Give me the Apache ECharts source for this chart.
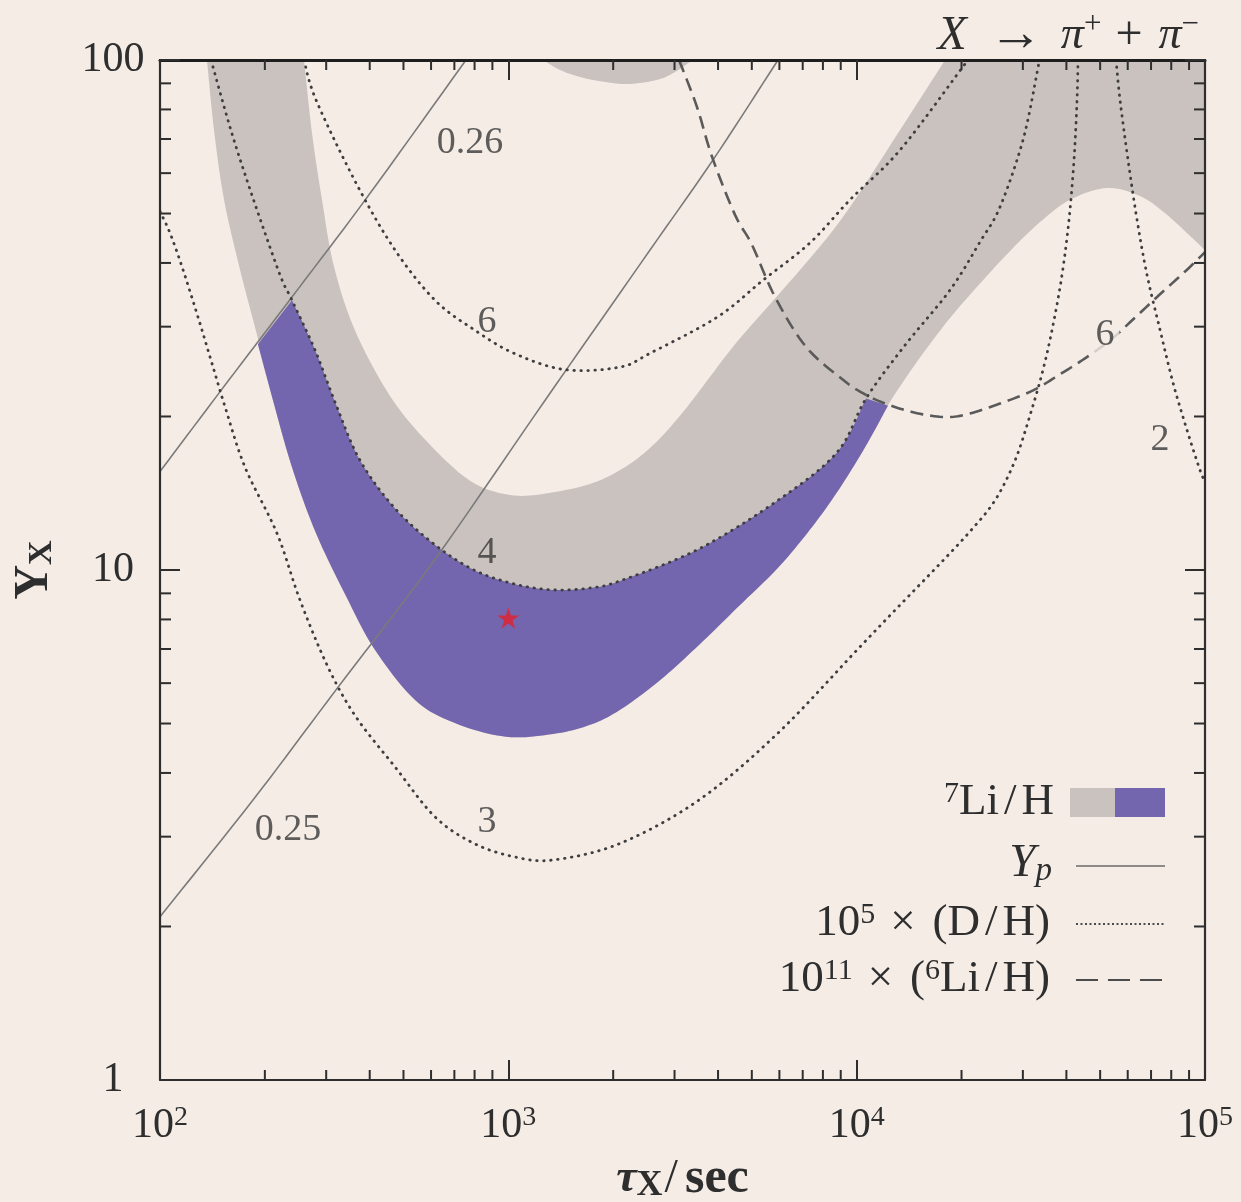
<!DOCTYPE html>
<html>
<head>
<meta charset="utf-8">
<script src="https://cdn.jsdelivr.net/npm/echarts@6/dist/echarts.min.js"></script>
<style>
html,body{margin:0;padding:0;background:#f5ece6;}
#chart{width:1241px;height:1202px;}
</style>
</head>
<body>
<div id="chart"></div>
<script>
// ---------- axis ticks ----------
const xTickExponents = [2, 3, 4, 5];          // labels 10^2 ... 10^5
const yTickLabels = ['1', '10', '100'];
const minorMantissas = [2, 3, 4, 5, 6, 7, 8, 9];
const xDecades = [100, 1000, 10000];
const yDecades = [1, 10];

// ---------- 7Li/H allowed band (tau [s], Y_X) ----------
const li7OuterEdge = [
  [136.4,100],[142.9,72.9],[152.7,53.2],[169.7,38.8],[192.4,27.9],[211.1,21.5],[239.3,15.9],
  [280.5,11.8],[346.5,8.73],[414.3,6.97],[539.8,5.56],[702.9,5.01],[984.7,4.71],[1344,4.77],
  [1716,4.97],[2093,5.32],[2725,6.08],[3527,7.13],[4626,8.54],[5946,10.1],[7345,12.0],
  [8780,14.2],[10570,17.4],[12220,20.9],[14900,25.6],[18540,31.2],[23050,37.0],[28110,42.8],
  [33600,48.1],[40980,53.2],[52330,56.1],[65090,54.1],[77800,49.7],[100000,42.4]
];
const li7InnerEdge = [
  [259.1,100],[273.1,71.9],[291.8,53.2],[316.0,39.3],[365.3,29.2],[466.6,21.5],[615.9,17.2],
  [797.0,14.8],[1038,14.0],[1344,14.2],[1716,14.75],[2093,15.7],[2551,17.35],[3172,20.4],
  [4416,27.4],[5640,33.2],[7692,42.4],[9569,51.5],[13320,72.9],[17930,100]
];
const li7TopPatch = [
  [1258,100],[1407,95.6],[1606,92.6],[1833,90.9],[2191,89.7],[2672,91.4],[3009,94.7],[3322,99.1],[3434,100]
];
// ---------- region allowed by all constraints (purple) ----------
const purpleLowerEdge = [
  [191.0,27.7],[211.1,21.5],[239.3,15.9],[280.5,11.8],[346.5,8.73],[414.3,6.97],[539.8,5.56],
  [702.9,5.01],[984.7,4.71],[1344,4.77],[1716,4.97],[2093,5.32],[2725,6.08],[3527,7.13],
  [4626,8.54],[5946,10.1],[7345,12.0],[8780,14.2],[10570,17.4],[12300,21.0]
];
const purpleUpperEdge = [
  [10640,21.7],[8780,17.0],[5946,13.7],[3527,11.0],[2093,9.52],[1716,9.22],[1344,9.14],[1038,9.39],
  [797.0,10.0],[615.9,11.2],[472.9,13.2],[375.2,16.4],[320.1,21.1],[278.6,27.0],[239.3,33.8]
];

// ---------- 10^5 x D/H contours ----------
const dh2 = [
  [55540,100],[57020,83.5],[60120,63.7],[63810,48.6],[68160,37.9],[74260,29.6],[80930,23.3],
  [88800,18.8],[96760,15.7],[100000,14.9]
];
const dh3 = [
  [100,50.5],[106.8,45.8],[115.7,39.3],[128.6,31.3],[142.0,25.0],[153.7,20.9],[175.4,15.9],
  [216.7,11.8],[252.3,8.73],[303.6,6.45],[365.3,5.15],[472.9,4.11],[615.9,3.28],[797.0,2.91],
  [1038,2.74],[1344,2.70],[2093,2.91],[3527,3.54],[5946,4.79],[10023,6.97],[13320,8.54],[16900,10.1],
  [21150,11.9],[24960,13.7],[28490,16.4],[31450,20.1],[34280,24.7],[36620,30.2],[38860,37.9],
  [40700,48.6],[42070,63.7],[42920,83.5],[43200,100]
];
const dh4 = [
  [140.1,100],[166.4,66.6],[216.7,39.3],[239.3,33.8],[278.6,27.0],[320.1,21.1],[375.2,16.4],
  [472.9,13.2],[615.9,11.2],[797.0,10.0],[1038,9.39],[1344,9.14],[1716,9.22],[2093,9.52],
  [3527,11.0],[5946,13.7],[8780,17.0],[10640,21.7],[13770,27.6],[18540,35.4],[22600,44.0],
  [25790,51.5],[30030,69.7],[32940,94.3],[33380,100]
];
const dh6 = [
  [259.1,100],[280.5,83.5],[365.3,57.4],[472.9,42.4],[615.9,33.8],[797.0,29.6],[1038,26.6],
  [1455,24.7],[2093,25.0],[2551,26.6],[3973,31.3],[5383,37.0],[7345,43.8],[9569,53.2],
  [13320,66.6],[20070,96.5],[20870,100]
];
// ---------- 10^11 x 6Li/H = 6 contour ----------
const li6Contour = [
  [3090,100],[3480,80.9],[3844,64.6],[4475,49.7],[5007,43.4],[5830,34.3],[7153,27.4],[9135,23.6],
  [10570,22.1],[12300,21.1],[14900,20.3],[17930,19.95],[20740,20.2],[25790,21.2],[32090,22.5],
  [38360,24.2],[45250,26.0],[53380,28.2],[60920,30.6],[72830,34.3],[88800,38.8],[100000,42.0]
];
// ---------- Y_p contours ----------
const yp025 = [[100,2.09],[184.9,3.54],[320.1,5.82],[615.9,10.5],[1274,21.5],[2551,42.4],[3869,63.7],[5946,100]];
const yp026 = [[100,15.6],[149.7,22.5],[239.3,34.3],[395.6,54.1],[755.9,100]];
// ---------- best point ----------
const bestPoint = [[1000, 8.05]];
// ---------- contour labels ----------
const contourLabelNames = ['0.26', '6', '4', '3', '0.25', '6', '2'];
const contourLabelPos = [[776,68.8],[869,30.6],[869,10.8],[869,3.21],[233,3.09],[51600,28.9],[74260,18.0]];

// ---------- styling ----------
const BG = '#f5ece6';
const GREY = '#c9c2bf';
const PURPLE = '#7466ae';
const INK = '#2e2e2e';
const SERIF = "'Liberation Serif','DejaVu Serif',serif";

const xMinor = [];
xDecades.forEach(d => minorMantissas.forEach(m => xMinor.push(m * d)));
const yMinor = [];
yDecades.forEach(d => minorMantissas.forEach(m => yMinor.push(m * d)));

// Catmull-Rom smoothing of screen-space points (rendering only)
function spline(pts, segs) {
  if (pts.length < 3) return pts.slice();
  const out = [];
  for (let i = 0; i < pts.length - 1; i++) {
    const p0 = pts[i - 1] || pts[i], p1 = pts[i], p2 = pts[i + 1], p3 = pts[i + 2] || pts[i + 1];
    for (let k = 0; k < segs; k++) {
      const s = k / segs, s2 = s * s, s3 = s2 * s;
      out.push([0, 1].map(j => 0.5 * (2 * p1[j] + (-p0[j] + p2[j]) * s +
        (2 * p0[j] - 5 * p1[j] + 4 * p2[j] - p3[j]) * s2 + (-p0[j] + 3 * p1[j] - 3 * p2[j] + p3[j]) * s3)));
    }
  }
  out.push(pts[pts.length - 1]);
  return out;
}

function polygonSeries(name, edges, color, z) {
  const flat = [].concat.apply([], edges);
  return {
    type: 'custom', name: name, coordinateSystem: 'cartesian2d', z: z, silent: true,
    animation: false, data: flat, encode: {x: 0, y: 1},
    renderItem: function (params, api) {
      if (params.dataIndex !== 0) return null;
      let pts = [];
      edges.forEach(e => { pts = pts.concat(spline(e.map(p => api.coord(p)), 10)); });
      return {type: 'polygon', shape: {points: pts}, style: {fill: color}};
    }
  };
}
function curveSeries(name, data, st, z) {
  return {
    type: 'custom', name: name, coordinateSystem: 'cartesian2d', z: z, silent: true,
    animation: false, data: data, encode: {x: 0, y: 1}, clip: true,
    renderItem: function (params, api) {
      if (params.dataIndex !== 0) return null;
      return {type: 'polyline', shape: {points: spline(data.map(p => api.coord(p)), 10)},
        style: Object.assign({fill: null}, st)};
    }
  };
}
const dotted = {stroke: '#3e3e3e', lineWidth: 2.8, lineDash: [0.5, 6.5], lineCap: 'round'};
const dashed = {stroke: '#5a5a5a', lineWidth: 2.6, lineDash: [13, 7]};
const solid = {stroke: '#7a7a7a', lineWidth: 1.6};

const greyBand = [li7OuterEdge, [[100000, 100]], li7InnerEdge.slice().reverse()];
const purpleRegion = [purpleLowerEdge, purpleUpperEdge];

const axisCommon = {
  type: 'log', logBase: 10, interval: 1,
  splitLine: {show: false}, minorTick: {show: false}, minorSplitLine: {show: false},
  axisTick: {show: true, inside: true, length: 20, lineStyle: {color: INK, width: 2}},
  z: 8
};
const supRich = {fontFamily: SERIF, fontSize: 30, fill: INK, verticalAlign: 'top'};
const legFont = {fontFamily: SERIF, fontSize: 45, fill: INK};
const timesRich = {fontFamily: SERIF, fontSize: 45, fill: INK, padding: [0, 17, 0, 15]};
const slashRich = {fontFamily: SERIF, fontSize: 45, fill: INK, padding: [0, 5]};

const chart = echarts.init(document.getElementById('chart'), null, {renderer: 'canvas'});
chart.setOption({
  backgroundColor: BG,
  animation: false,
  textStyle: {fontFamily: SERIF},
  title: {
    text: '{i|X}{a|→}{p|π}{u|+}{b|+}{p|π}{u|−}',
    right: 37, top: 4,
    textStyle: {
      fontWeight: 'normal',
      rich: {
        i: {fontFamily: SERIF, fontStyle: 'italic', fontWeight: 'normal', fontSize: 48, color: INK},
        a: {fontFamily: SERIF, fontWeight: 'normal', fontSize: 54, color: INK, padding: [0, 18, 0, 22]},
        b: {fontFamily: SERIF, fontWeight: 'normal', fontSize: 48, color: INK, padding: [0, 16, 0, 14]},
        p: {fontFamily: SERIF, fontStyle: 'italic', fontWeight: 'normal', fontSize: 46, color: INK},
        u: {fontFamily: SERIF, fontWeight: 'normal', fontSize: 31, color: INK, verticalAlign: 'top'}
      }
    }
  },
  grid: {left: 160, right: 36, top: 60, bottom: 122, containLabel: false, outerBoundsMode: 'none'},
  xAxis: [
    Object.assign({}, axisCommon, {
      position: 'bottom', min: 100, max: 100000,
      axisLine: {show: true, lineStyle: {color: INK, width: 2.2}},
      axisLabel: {
        show: true, margin: 24, showMinLabel: true, showMaxLabel: true,
        formatter: function (v) {
          const e = Math.round(Math.log10(v));
          const idx = xTickExponents.indexOf(e);
          return idx < 0 ? '' : '{b|10}{s|' + xTickExponents[idx] + '}';
        },
        rich: {
          b: {fontFamily: SERIF, fontSize: 42, color: INK, lineHeight: 44},
          s: {fontFamily: SERIF, fontSize: 28, color: INK, verticalAlign: 'top'}
        }
      },
      name: '{t|τ}{x|X}{s|/}{e|sec}', nameLocation: 'middle', nameGap: 74, nameMoveOverlap: false,
      nameTextStyle: {
        rich: {
          t: {fontFamily: SERIF, fontStyle: 'italic', fontWeight: 'bold', fontSize: 46, color: INK},
          x: {fontFamily: SERIF, fontWeight: 'bold', fontSize: 36, color: INK, verticalAlign: 'bottom'},
          s: {fontFamily: SERIF, fontWeight: 'normal', fontSize: 48, color: INK, padding: [0, 7, 0, 2]},
          e: {fontFamily: SERIF, fontWeight: 'bold', fontSize: 50, color: INK}
        }
      }
    }),
    Object.assign({}, axisCommon, {
      position: 'top', min: 100, max: 100000,
      axisLine: {show: true, lineStyle: {color: '#1e1e1e', width: 3}},
      axisLabel: {show: false}
    })
  ],
  yAxis: [
    Object.assign({}, axisCommon, {
      position: 'left', min: 1, max: 100,
      axisLine: {show: true, lineStyle: {color: INK, width: 2.2}},
      axisLabel: {
        show: true, margin: 47, align: 'center', showMinLabel: true, showMaxLabel: true,
        fontFamily: SERIF, fontSize: 42, color: INK,
        formatter: function (v) {
          const e = Math.round(Math.log10(v));
          return yTickLabels[e] !== undefined ? yTickLabels[e] : '';
        }
      },
      name: '{y|Y}{x|X}', nameLocation: 'middle', nameRotate: 90, nameGap: 101, nameMoveOverlap: false,
      nameTextStyle: {
        rich: {
          y: {fontFamily: SERIF, fontWeight: 'bold', fontSize: 48, color: INK},
          x: {fontFamily: SERIF, fontWeight: 'bold', fontSize: 34, color: INK, verticalAlign: 'bottom'}
        }
      }
    }),
    Object.assign({}, axisCommon, {
      position: 'right', min: 1, max: 100,
      axisLine: {show: true, lineStyle: {color: INK, width: 2.2}},
      axisLabel: {show: false}
    })
  ],
  series: [
    polygonSeries('7Li/H band', greyBand, GREY, 1),
    polygonSeries('7Li/H upper patch', [li7TopPatch], GREY, 1),
    polygonSeries('allowed region', purpleRegion, PURPLE, 2),
    curveSeries('Yp 0.25', yp025, solid, 4),
    curveSeries('Yp 0.26', yp026, solid, 4),
    curveSeries('D/H 2', dh2, dotted, 4),
    curveSeries('D/H 3', dh3, dotted, 4),
    curveSeries('D/H 4', dh4, dotted, 4),
    curveSeries('D/H 6', dh6, dotted, 4),
    curveSeries('6Li/H 6', li6Contour, dashed, 4),
    {
      type: 'scatter', name: 'labels', z: 6, silent: true, animation: false,
      symbolSize: 0,
      data: contourLabelNames.map((n, i) => ({
        name: n, value: contourLabelPos[i],
        label: i === 5 ? {backgroundColor: BG, padding: [2, 5]} : {}
      })),
      label: {show: true, position: 'inside', formatter: '{b}', fontFamily: SERIF, fontSize: 38, color: '#383838'}
    },
    {
      type: 'scatter', name: 'best fit', z: 7, silent: true, animation: false,
      symbol: 'path://M50,0 L61.2,34.5 L97.6,34.5 L68.2,55.9 L79.4,90.5 L50,69.1 L20.6,90.5 L31.8,55.9 L2.4,34.5 L38.8,34.5 Z',
      symbolSize: [22, 21], itemStyle: {color: '#e5202b'}, data: bestPoint
    },
    {
      type: 'custom', name: 'minor ticks', z: 9, silent: true, animation: false,
      data: [[100, 1]], encode: {x: 0, y: 1},
      renderItem: function (params, api) {
        const kids = [];
        const st = {stroke: INK, lineWidth: 2};
        xMinor.forEach(v => {
          const b = api.coord([v, 1]), t = api.coord([v, 100]);
          kids.push({type: 'line', shape: {x1: b[0], y1: b[1], x2: b[0], y2: b[1] - 10}, style: st});
          kids.push({type: 'line', shape: {x1: t[0], y1: t[1], x2: t[0], y2: t[1] + 10}, style: st});
        });
        yMinor.forEach(v => {
          const l = api.coord([100, v]), r = api.coord([100000, v]);
          kids.push({type: 'line', shape: {x1: l[0], y1: l[1], x2: l[0] + 11, y2: l[1]}, style: st});
          kids.push({type: 'line', shape: {x1: r[0], y1: r[1], x2: r[0] - 11, y2: r[1]}, style: st});
        });
        return {type: 'group', children: kids};
      }
    }
  ],
  graphic: [
    {type: 'text', x: 1054, y: 802, z: 20, style: Object.assign({
      text: '{s|7}Li{d|/}H', align: 'right', verticalAlign: 'middle',
      rich: {s: supRich, d: slashRich}
    }, legFont)},
    {type: 'rect', z: 20, shape: {x: 1070, y: 788, width: 45, height: 29}, style: {fill: GREY}},
    {type: 'rect', z: 20, shape: {x: 1115, y: 788, width: 50, height: 29}, style: {fill: PURPLE}},
    {type: 'text', x: 1052, y: 864, z: 20, style: Object.assign({
      text: '{i|Y}{p|p}', align: 'right', verticalAlign: 'middle',
      rich: {
        i: {fontFamily: SERIF, fontStyle: 'italic', fontSize: 47, fill: INK},
        p: {fontFamily: SERIF, fontStyle: 'italic', fontSize: 33, fill: INK, verticalAlign: 'bottom'}
      }
    }, legFont)},
    {type: 'line', z: 20, shape: {x1: 1076, y1: 866, x2: 1165, y2: 866}, style: {stroke: '#6a6a6a', lineWidth: 1.6}},
    {type: 'text', x: 1050, y: 923, z: 20, style: Object.assign({
      text: '10{s|5}{m|×}(D{d|/}H)', align: 'right', verticalAlign: 'middle',
      rich: {s: supRich, m: timesRich, d: slashRich}
    }, legFont)},
    {type: 'line', z: 20, shape: {x1: 1076, y1: 924, x2: 1165, y2: 924}, style: {stroke: '#4b4b4b', lineWidth: 2, lineDash: [2, 2.5]}},
    {type: 'text', x: 1050, y: 979, z: 20, style: Object.assign({
      text: '10{s|11}{m|×}({s|6}Li{d|/}H)', align: 'right', verticalAlign: 'middle',
      rich: {s: supRich, m: timesRich, d: slashRich}
    }, legFont)},
    {type: 'line', z: 20, shape: {x1: 1076, y1: 980, x2: 1162, y2: 980}, style: {stroke: '#4b4b4b', lineWidth: 2.2, lineDash: [22, 10]}}
  ]
});
</script>
</body>
</html>
